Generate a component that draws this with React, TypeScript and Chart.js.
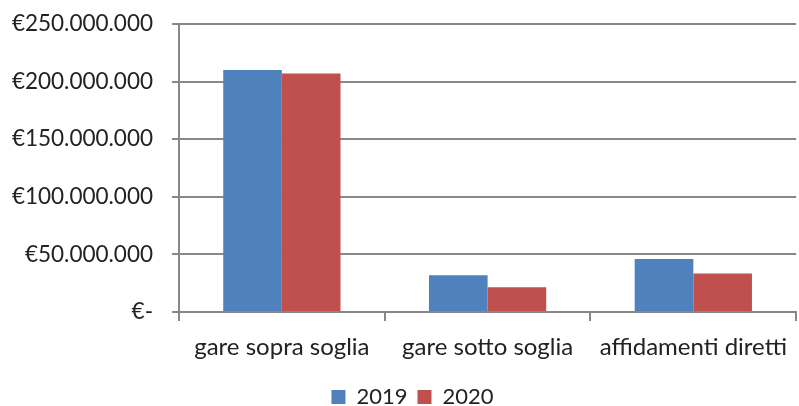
import React, { useEffect, useRef } from "react";
import { Chart, registerables } from "chart.js";

Chart.register(...registerables);

const categories = ["gare sopra soglia", "gare sotto soglia", "affidamenti diretti"];
const series2019 = [210000000, 31800000, 46000000];
const series2020 = [207000000, 21500000, 33500000];
const yTickMax = 250000000;
const yTickStep = 50000000;

function formatEuro(v: number): string {
  if (v === 0) return "€-";
  const s = Math.round(v).toString().replace(/\B(?=(\d{3})+(?!\d))/g, ".");
  return "€" + s;
}

const legendShift = {
  id: "legendShift",
  afterLayout(chart: any) {
    const lg = chart.legend;
    if (lg) {
      lg.left += 13;
      lg.right += 13;
    }
  },
};

export default function App() {
  const ref = useRef<HTMLCanvasElement | null>(null);
  useEffect(() => {
    document.body.style.margin = "0";
    const ctx = ref.current!;
    const family = "Lato, 'Open Sans', sans-serif";
    const chart = new Chart(ctx, {
      type: "bar",
      data: {
        labels: categories,
        datasets: [
          { label: "2019", data: series2019, backgroundColor: "#4f81bd", barPercentage: 1, categoryPercentage: 0.57 },
          { label: "2020", data: series2020, backgroundColor: "#c0504d", barPercentage: 1, categoryPercentage: 0.57 },
        ],
      },
      plugins: [legendShift],
      options: {
        animation: false,
        responsive: false,
        layout: { padding: { top: 0, right: 0, left: 0, bottom: -12 } },
        plugins: {
          tooltip: { enabled: false },
          legend: {
            position: "bottom",
            labels: { color: "#222", font: { family, size: 22 }, boxWidth: 14, boxHeight: 14, padding: 10 },
          },
        },
        scales: {
          x: {
            grid: { drawOnChartArea: false, drawTicks: true, tickLength: 9, color: "#888", lineWidth: 2 },
            border: { color: "#888", width: 2 },
            ticks: { color: "#222", font: { family, size: 24 }, padding: 12 },
            afterFit: (s: any) => { s.height = 64; },
          },
          y: {
            min: 0,
            max: yTickMax,
            grid: { color: "#888", lineWidth: 2, tickLength: 7 },
            border: { color: "#888", width: 2 },
            ticks: {
              stepSize: yTickStep,
              color: "#222",
              font: { family, size: 22.5 },
              padding: 19,
              callback: (v: any) => formatEuro(Number(v)),
            },
            afterFit: (s: any) => { s.width = 179; s.paddingTop = 24; s.paddingBottom = 0; },
          },
        },
      },
    });
    return () => chart.destroy();
  }, []);
  return (
    <div style={{ width: 799, height: 406 }}>
      <canvas ref={ref} width={799} height={406} style={{ width: 799, height: 406, display: "block" }} />
    </div>
  );
}
